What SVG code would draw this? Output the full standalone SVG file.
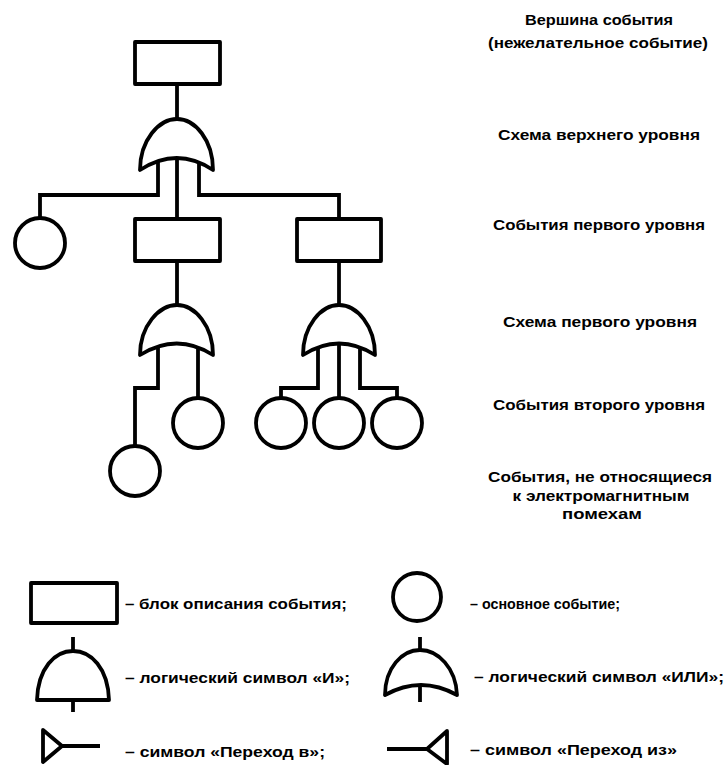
<svg xmlns="http://www.w3.org/2000/svg" width="725" height="765" viewBox="0 0 725 765">
<style>
.s{fill:none;stroke:#000;stroke-width:3.8;stroke-linejoin:round}
.w{fill:#fff;stroke:#000;stroke-width:3.8;stroke-linejoin:round}
.c{fill:none;stroke:#000;stroke-width:3.8;stroke-linejoin:miter}
.t{font-family:"Liberation Sans",Arial,sans-serif;font-weight:bold;font-size:14px;fill:#000}
.m{text-anchor:middle}
</style>
<rect width="725" height="765" fill="#fff"/>
<g id="connectors">
<path class="c" d="M177,84 V120"/>
<path class="c" d="M158,160 V195 H40 V218"/>
<path class="c" d="M177,158 V219"/>
<path class="c" d="M199,160 V195 H339 V219"/>
<path class="c" d="M177,261 V306"/>
<path class="c" d="M339,261 V306"/>
<path class="c" d="M158,346 V388 H135 V445"/>
<path class="c" d="M198,346 V398"/>
<path class="c" d="M318,346 V388 H281 V398"/>
<path class="c" d="M339,344 V398"/>
<path class="c" d="M360,346 V388 H397 V398"/>
</g>
<g id="top-event"><rect class="w" x="135" y="42" width="85" height="42"/></g>
<g id="gate-top"><path class="w" d="M140,170 C140,140 159,119 177,119 C195,119 213,140 213,170 Q177,146 140,170 Z"/></g>
<g id="event-basic-1"><circle class="w" cx="40" cy="243" r="25"/></g>
<g id="event-1a"><rect class="w" x="135" y="219" width="85" height="42"/></g>
<g id="event-1b"><rect class="w" x="297" y="219" width="84" height="42"/></g>
<g id="gate-1a"><path class="w" d="M140,355 C140,326 159,305 177,305 C195,305 213,326 213,355 Q177,332 140,355 Z"/></g>
<g id="gate-1b"><path class="w" d="M303,355 C303,326 321,305 339,305 C357,305 375,326 375,355 Q339,332 303,355 Z"/></g>
<g id="event-2a"><circle class="w" cx="135" cy="471" r="25"/></g>
<g id="event-2b"><circle class="w" cx="198" cy="423" r="25"/></g>
<g id="event-2c"><circle class="w" cx="281" cy="423" r="25"/></g>
<g id="event-2d"><circle class="w" cx="339" cy="423" r="25"/></g>
<g id="event-2e"><circle class="w" cx="397" cy="423" r="25"/></g>
<g id="labels">
<text class="t m" x="599" y="25" textLength="148" lengthAdjust="spacingAndGlyphs">Вершина события</text>
<text class="t m" x="598" y="48" textLength="220" lengthAdjust="spacingAndGlyphs">(нежелательное событие)</text>
<text class="t m" x="599" y="140" textLength="202" lengthAdjust="spacingAndGlyphs">Схема верхнего уровня</text>
<text class="t m" x="599" y="230" textLength="212" lengthAdjust="spacingAndGlyphs">События первого уровня</text>
<text class="t m" x="600" y="327" textLength="194" lengthAdjust="spacingAndGlyphs">Схема первого уровня</text>
<text class="t m" x="599" y="410" textLength="212" lengthAdjust="spacingAndGlyphs">События второго уровня</text>
<text class="t m" x="600" y="482" textLength="224" lengthAdjust="spacingAndGlyphs">События, не относящиеся</text>
<text class="t m" x="601" y="501" textLength="177" lengthAdjust="spacingAndGlyphs">к электромагнитным</text>
<text class="t m" x="602" y="519" textLength="80" lengthAdjust="spacingAndGlyphs">помехам</text>
</g>
<g id="legend-block">
<rect class="w" x="31" y="583" width="86" height="40"/>
<text class="t" x="125" y="609" textLength="222" lengthAdjust="spacingAndGlyphs">– блок описания события;</text>
</g>
<g id="legend-basic">
<circle class="w" cx="417" cy="597" r="24"/>
<text class="t" x="470" y="609" font-size="15" font-weight="700" textLength="150" lengthAdjust="spacingAndGlyphs">– основное событие;</text>
</g>
<g id="legend-and">
<path class="c" d="M73,637 V651 M73,700 V712"/>
<path class="w" d="M37,700 C38,668 55,651 73,651 C91,651 108,668 109,700 Z"/>
<text class="t" x="125" y="683" textLength="225" lengthAdjust="spacingAndGlyphs">– логический символ «И»;</text>
</g>
<g id="legend-or">
<path class="c" d="M420,637 V650"/>
<path class="w" d="M385,695 C385,668 402,650 420,650 C438,650 456,668 457,695 Q421,675 385,695 Z"/>
<path class="c" d="M420,687 V702"/>
<text class="t" x="474" y="682" textLength="250" lengthAdjust="spacingAndGlyphs">– логический символ «ИЛИ»;</text>
</g>
<g id="legend-transfer-in">
<path class="s" d="M43,730 L62,746 L43,762 Z M62,746 H100"/>
<text class="t" x="125" y="757" textLength="200" lengthAdjust="spacingAndGlyphs">– символ «Переход в»;</text>
</g>
<g id="legend-transfer-out">
<path class="s" d="M447,731 L427,749 L447,764 Z M427,749 H387"/>
<text class="t" x="470" y="755" textLength="207" lengthAdjust="spacingAndGlyphs">– символ «Переход из»</text>
</g>
</svg>
